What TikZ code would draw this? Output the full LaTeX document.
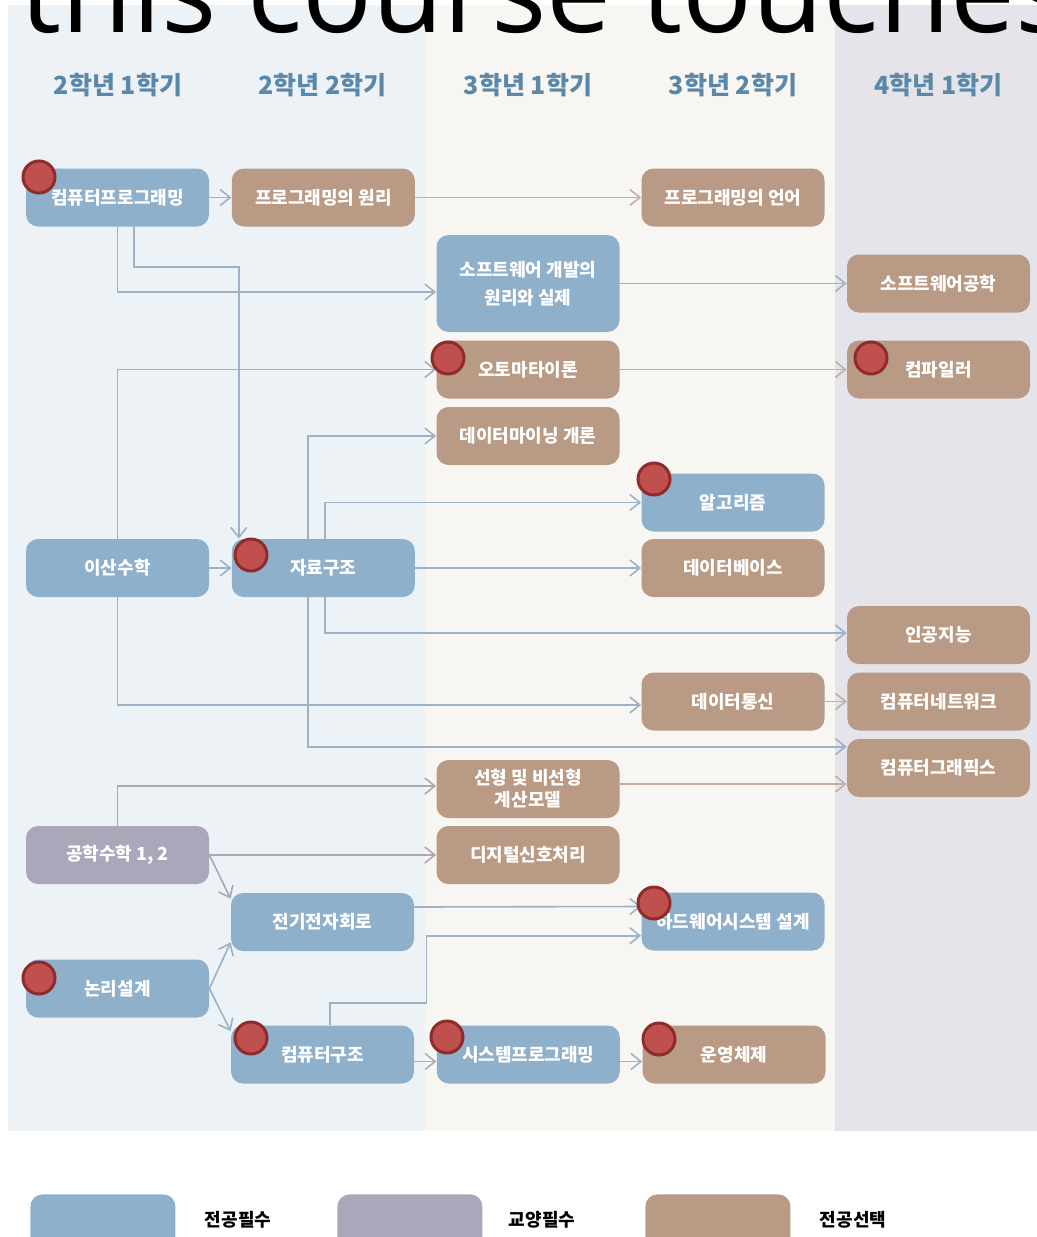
\documentclass[tikz,border=0pt]{standalone}
\usepackage{fontspec}
\setmainfont{Noto Sans CJK KR}
\newfontfamily\opensans{Open Sans}
\usetikzlibrary{positioning, arrows.meta, calc}

\definecolor{reqblue}{HTML}{8FB0CB}
\definecolor{elebrown}{HTML}{B99A84}
\definecolor{genpurple}{HTML}{ACA6BA}
\definecolor{lnblue}{HTML}{9CB2C6}
\definecolor{lnbrown}{HTML}{C4AFA2}
\definecolor{lnpurple}{HTML}{ABA7B7}
\definecolor{bgblue}{HTML}{EDF2F7}
\definecolor{bgcream}{HTML}{F8F6F2}
\definecolor{bggray}{HTML}{E5E4EA}
\definecolor{hdrblue}{HTML}{5B87A9}
\definecolor{dotred}{HTML}{C0504D}
\definecolor{dotrim}{HTML}{8E2B2B}

\begin{document}
\begin{tikzpicture}[
  x=0.5pt, y=-0.5pt,
  font=\fontsize{9}{11}\selectfont\bfseries, node distance=11pt,
  course/.style={rounded corners=6pt, minimum height=29pt, minimum width=91.5pt, inner sep=0pt, align=center, text=white},
  req/.style={course, fill=reqblue},
  ele/.style={course, fill=elebrown},
  gen/.style={course, fill=genpurple},
  hdr/.style={font=\fontsize{12.5}{14}\selectfont\bfseries, text=hdrblue},
  reddot/.style={circle, draw=dotrim, fill=dotred, line width=1.5pt, minimum size=16pt, inner sep=0pt},
  arr/.style={-{Straight Barb[length=5pt, width=8pt]}, line width=0.8pt},
  arrb/.style={arr, lnblue},
  arrr/.style={arr, lnbrown},
  arrp/.style={arr, lnpurple},
]
  \useasboundingbox (0,0) rectangle (1037,1237);
  \clip (0,0) rectangle (1037,1237);
  % semester bands
  \fill[white] (0,0) rectangle (1037,1237);
  \fill[bgblue]  (8,5)   rectangle (425,1131);
  \fill[bgcream] (425,5) rectangle (835,1131);
  \fill[bggray]  (835,5) rectangle (1037,1131);
  \node[anchor=base west, inner sep=0pt, font=\opensans\fontsize{58}{60}\selectfont] (title) at (20,32) {this course touches};
  % headers
  \node[hdr] (h1) at (118,85) {2학년 1학기};
  \node[hdr] (h2) at (322.5,85) {2학년 2학기};
  \node[hdr] (h3) at (528,85) {3학년 1학기};
  \node[hdr] (h4) at (733,85) {3학년 2학기};
  \node[hdr] (h5) at (938.5,85) {4학년 1학기};
  % courses
  \node[req]                (cp)  at (117.5,197.5) {컴퓨터프로그래밍};
  \node[ele, right=of cp]   (pp)  {프로그래밍의 원리};
  \node[ele]                (pl)  at (733,197.5) {프로그래밍의 언어};
  \node[req, minimum height=48.5pt, font=\fontsize{9}{14}\selectfont\bfseries] (sw) at (528,283.5) {소프트웨어 개발의\\원리와 실제};
  \node[ele]                (se)  at (938.5,283.5) {소프트웨어공학};
  \node[ele]                (at)  at (528,369.5) {오토마타이론};
  \node[ele]                (cm)  at (938.5,369.5) {컴파일러};
  \node[ele]                (dm)  at (528,436) {데이터마이닝 개론};
  \node[req]                (al)  at (733,502.5) {알고리즘};
  \node[req]                (ip)  at (117.5,568) {이산수학};
  \node[req, right=of ip]   (ds)  {자료구조};
  \node[ele]                (db)  at (733,568) {데이터베이스};
  \node[ele]                (ai)  at (938.5,635) {인공지능};
  \node[ele]                (dc)  at (733,701.5) {데이터통신};
  \node[ele, right=of dc]   (nw)  {컴퓨터네트워크};
  \node[ele]                (cg)  at (938.5,768) {컴퓨터그래픽스};
  \node[ele]                (lm)  at (528,789) {선형 및 비선형\\계산모델};
  \node[gen]                (em)  at (117.5,855) {공학수학 1, 2};
  \node[ele]                (dsp) at (528,855) {디지털신호처리};
  \node[req]                (ec)  at (322.5,922) {전기전자회로};
  \node[req]                (hw)  at (733,921.5) {하드웨어시스템 설계};
  \node[req]                (lg)  at (117.5,988.5) {논리설계};
  \node[req]                (ct)  at (322.5,1054.5) {컴퓨터구조};
  \node[req, right=of ct]   (sp)  {시스템프로그래밍};
  \node[ele, right=of sp]   (os)  {운영체제};
  % top chain
  \draw[arrb] (cp) -- (pp);
  \draw[arrr] (pp) -- (pl);
  \draw[arrb] (cp.south) |- ([yshift=-4.25pt]sw.west);
  \draw[arrb] ([xshift=8.25pt]cp.south) -- ++(0,40) -| ([xshift=-42.25pt]ds.north);
  \draw[arrb] (sw) -- (se);
  \draw[arrr] (at) -- (cm);
  % discrete math and data structures
  \draw[arrb] (ip.north) |- (at.west);
  \draw[arrb] (ip) -- (ds);
  \draw[arrb] (ip.south) |- ([yshift=-1.75pt]dc.west);
  \draw[arrb] ([xshift=-7.75pt]ds.north) |- (dm.west);
  \draw[arrb] ([xshift=0.75pt]ds.north) |- (al.west);
  \draw[arrb] (ds) -- (db);
  \draw[arrb] ([xshift=0.75pt]ds.south) |- ([yshift=1pt]ai.west);
  \draw[arrb] ([xshift=-7.75pt]ds.south) |- ([yshift=10.65pt]cg.west);
  \draw[arrr] (dc) -- (nw);
  % engineering math and hardware
  \draw[arrp] (em.north) |- ([yshift=1.5pt]lm.west);
  \draw[arrr] ([yshift=2.5pt]lm.east) -- ([yshift=2.5pt]lm.east -| cg.west);
  \draw[arrp] (em) -- (dsp);
  \draw[arrp] (em.east) -- ([yshift=-3pt]ec.north west);
  \draw[arrb] (lg.east) -- ([yshift=4.5pt]ec.south west);
  \draw[arrb] (lg.east) -- ([yshift=-3pt]ct.north west);
  \draw[arrb] ([yshift=7.5pt]ec.east) -- ([yshift=7.5pt]hw.west);
  \draw[arrb] ([xshift=3.75pt]ct.north) -- ++(0,-22) -- ++(96.5,0) |- ([yshift=-7.1pt]hw.west);
  \foreach \a/\b in {ct/sp, sp/os} \draw[arrb] ([yshift=-3.5pt]\a.east) -- ([yshift=-3.5pt]\b.west);
  % markers
  \foreach \x/\y [count=\i] in {39/177, 448/358, 871/358, 654/479, 251/555, 654/903, 39/978, 251/1038, 447/1037, 659/1039}
    \node[reddot] (dot\i) at (\x,\y) {};
  % legend
  \node[req, minimum width=72.5pt, anchor=north west] (kreq) at (30,1194) {};
  \node[gen, minimum width=72.5pt, anchor=north west] (kgen) at (337,1194) {};
  \node[ele, minimum width=72.5pt, anchor=north west] (kele) at (645,1194) {};
  \node (treq) at (238,1220) {전공필수};
  \node (tgen) at (542,1220) {교양필수};
  \node (tele) at (853,1220) {전공선택};
\end{tikzpicture}
\end{document}
